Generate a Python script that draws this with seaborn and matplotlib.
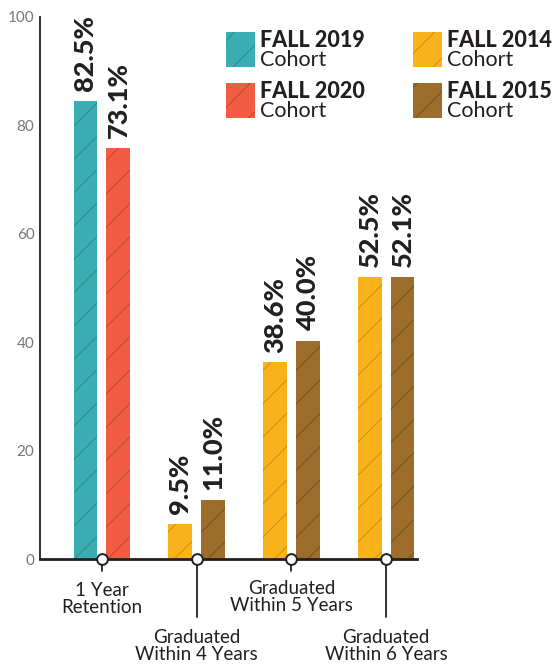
import matplotlib
matplotlib.use("Agg")
import matplotlib.pyplot as plt
from matplotlib.patches import Rectangle
import seaborn as sns
import pandas as pd

# --- data ---
categories = ["1 Year\nRetention", "Graduated\nWithin 4 Years",
              "Graduated\nWithin 5 Years", "Graduated\nWithin 6 Years"]
left_cohort = ["FALL 2019", "FALL 2014", "FALL 2014", "FALL 2014"]
right_cohort = ["FALL 2020", "FALL 2015", "FALL 2015", "FALL 2015"]
left_values = [84.5, 6.5, 36.3, 52.0]     # drawn bar heights
right_values = [75.8, 10.9, 40.2, 52.0]
left_labels = ["82.5%", "9.5%", "38.6%", "52.5%"]
right_labels = ["73.1%", "11.0%", "40.0%", "52.1%"]
label_drop = [2.2, 10.7, 2.2, 10.7]        # leader line length below axis
label_y = [-7.4, -16.0, -7.0, -16.0]

legend_order = ["FALL 2019", "FALL 2020", "FALL 2014", "FALL 2015"]
cohort_colors = {"FALL 2019": "#3AAEB2", "FALL 2020": "#F15C43",
                 "FALL 2014": "#F8B31B", "FALL 2015": "#9D6E2B"}
hatch_colors = {"FALL 2019": "#2A8588", "FALL 2020": "#B8462F",
                "FALL 2014": "#C08A18", "FALL 2015": "#6E4C1D"}

y_major = [0, 20, 40, 60, 80, 100]
y_minor = [10, 30, 50, 70, 90]

df = pd.DataFrame({
    "category": categories * 2,
    "slot": ["left"] * 4 + ["right"] * 4,
    "value": left_values + right_values,
})

sns.set_style("white")
plt.rcParams["font.family"] = ["Lato", "DejaVu Sans"]
plt.rcParams["hatch.linewidth"] = 0.6

ink = "#231F20"
fig = plt.figure(figsize=(5.53, 6.64), dpi=100)
ax = fig.add_axes([0.0723, 0.1581, 0.6817, 0.8163])

sns.barplot(data=df, x="category", y="value", hue="slot", order=categories,
            hue_order=["left", "right"], width=0.697, gap=0.273, dodge=True,
            saturation=1, legend=False, ax=ax, zorder=2)

for cont, cohorts, labels in zip(ax.containers, [left_cohort, right_cohort],
                                 [left_labels, right_labels]):
    for patch, c in zip(cont.patches, cohorts):
        patch.set_facecolor(cohort_colors[c])
        patch.set_edgecolor(hatch_colors[c])
        patch.set_linewidth(0)
        patch.set_hatch("/")
    ax.bar_label(cont, labels=labels, padding=7, rotation=90,
                 fontsize=19.5, fontweight="black", color=ink)

ax.set_xlim(-0.655, 3.327)
ax.set_ylim(0, 100)
ax.set_xlabel("")
ax.set_ylabel("")

for s in ["top", "right"]:
    ax.spines[s].set_visible(False)
ax.spines["left"].set_color(ink)
ax.spines["left"].set_linewidth(1.3)
ax.spines["bottom"].set_color(ink)
ax.spines["bottom"].set_linewidth(2)

# x ticks flank each group
xt = []
for i in range(len(categories)):
    xt += [i - 0.327, i + 0.327]
ax.set_xticks(xt)
ax.set_xticklabels([""] * len(xt))
ax.tick_params(axis="x", direction="in", length=9.4, width=1.3, color=ink)

ax.set_yticks(y_major)
ax.set_yticks(y_minor, minor=True)
ax.set_yticklabels([str(v) for v in y_major], fontsize=11, color="#777777")
ax.tick_params(axis="y", which="major", direction="in", length=7, width=1.3,
               color=ink, pad=4)
ax.tick_params(axis="y", which="minor", direction="in", length=3.6, width=1.1,
               color=ink)

# leader lines, circles and category labels
for i, cat in enumerate(categories):
    ax.plot([i, i], [0, -label_drop[i]], color=ink, lw=1.3, clip_on=False, zorder=4)
    ax.text(i, label_y[i], cat, ha="center", va="center", fontsize=13.5,
            color=ink, linespacing=1.0)
ax.scatter(range(len(categories)), [0] * len(categories), s=60, facecolor="white",
           edgecolor=ink, linewidth=1.4, zorder=6, clip_on=False)

# legend: two columns, bold cohort name over "Cohort"
W, H = 553, 664
legend_pos = [(226, 32), (226, 83), (413, 32), (413, 83)]
for name, (px, py) in zip(legend_order, legend_pos):
    fig.add_artist(Rectangle((px / W, 1 - (py + 35) / H), 29 / W, 35 / H,
                             transform=fig.transFigure, facecolor=cohort_colors[name],
                             edgecolor=hatch_colors[name], linewidth=0, hatch="/"))
    fig.text((px + 34) / W, 1 - (py + 15) / H, name, fontsize=15.5,
             fontweight="black", color=ink, va="baseline")
    fig.text((px + 34) / W, 1 - (py + 34) / H, "Cohort", fontsize=15.5,
             color=ink, va="baseline")

fig.savefig("out.png", dpi=100)
